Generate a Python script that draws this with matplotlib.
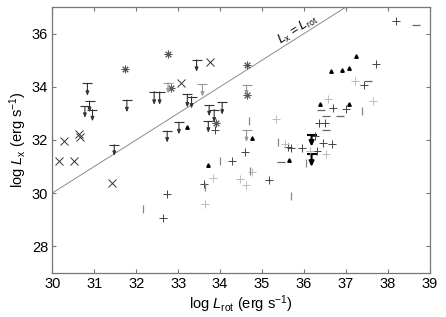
import matplotlib
matplotlib.use("Agg")
import matplotlib.pyplot as plt
import numpy as np

plt.rcParams['font.family'] = ['Liberation Sans', 'DejaVu Sans']
plt.rcParams['mathtext.fontset'] = 'custom'
plt.rcParams['mathtext.rm'] = 'Liberation Sans'
plt.rcParams['mathtext.it'] = 'Liberation Sans:italic'

# crosses
cross_x = [30.29, 30.63, 30.67, 30.17, 30.52, 31.43, 33.08, 33.75]
cross_y = [31.96, 32.21, 32.12, 31.19, 31.19, 30.39, 34.13, 34.92]

# asterisks
star_x = [31.74, 32.76, 32.82, 34.63, 34.64, 33.91]
star_y = [34.65, 35.22, 33.94, 34.81, 33.70, 32.64]

# upper limits: x, top value, arrow length
lim_x = [30.84, 30.89, 31.78, 31.48, 32.43, 32.56, 33.44, 33.22, 33.32, 33.74,
         34.05, 32.74, 33.02, 33.72, 33.86, 30.78, 30.96]
lim_y = [34.13, 33.46, 33.50, 31.82, 33.82, 33.80, 35.01, 33.72, 33.63, 33.30,
         33.41, 32.33, 32.67, 32.70, 33.14, 33.26, 33.14]
lim_len = [0.47, 0.42, 0.46, 0.42, 0.50, 0.48, 0.45, 0.50, 0.45, 0.41,
           0.46, 0.43, 0.46, 0.43, 0.49, 0.43, 0.44]

# grey upper limits
glim_x = [32.76, 33.58, 34.63, 34.63]
glim_y = [34.15, 34.09, 34.07, 32.37]
glim_len = [0.40, 0.46, 0.40, 0.45]

# bold upper limits
blim_x = [36.18, 36.18]
blim_y = [32.18, 31.46]
blim_len = [0.43, 0.47]

# triangles
tri_x = [33.21, 33.71, 34.75, 35.64, 36.37, 37.07, 36.64, 36.91, 37.06, 37.25]
tri_y = [32.50, 31.06, 32.07, 31.24, 33.37, 33.35, 34.59, 34.62, 34.71, 35.16]

# plus signs, dark
plus_x = [33.87, 32.74, 32.64, 33.61, 34.29, 34.59, 35.16, 35.62, 35.70, 35.94,
          36.25, 36.45, 36.67, 36.31, 36.35, 36.49, 36.69, 37.01, 37.43, 37.71, 38.18]
plus_y = [32.39, 29.98, 29.05, 30.35, 31.22, 31.55, 30.50, 31.75, 31.69, 31.69,
          32.15, 31.87, 31.84, 31.57, 32.62, 32.62, 33.20, 33.16, 34.07, 34.84, 36.48]

# plus signs, light
lplus_x = [33.83, 33.64, 34.47, 34.61, 34.75, 35.34, 36.14, 36.52, 36.56, 37.21, 37.64, 35.54]
lplus_y = [30.56, 29.61, 30.53, 30.31, 30.81, 32.80, 31.59, 31.49, 33.54, 34.22, 33.48, 31.84]

# vertical bars
vbar_x = [32.17, 33.99, 33.65, 34.69, 35.38, 35.70, 36.04, 37.37, 34.72]
vbar_y = [29.42, 31.19, 30.23, 32.72, 31.92, 29.91, 31.12, 33.08, 30.85]

# horizontal dashes
hbar_x = [36.41, 36.85, 36.53, 37.52, 38.66, 35.44, 36.53]
hbar_y = [33.14, 32.91, 32.39, 34.22, 36.33, 31.16, 32.91]

fig = plt.figure(figsize=(4.46, 3.17), dpi=100)
ax = fig.add_axes([0.117, 0.139, 0.847, 0.839])

line = np.array([30, 37])
ax.plot(line, line, color='#8c8c8c', lw=0.7)
ax.text(35.86, 36.17, r'$L_{\rm x}$ = $L_{\rm rot}$', rotation=32.6,
        ha='center', va='center', fontsize=9)

ax.plot(cross_x, cross_y, 'x', color='#333333', ms=5.5, mew=0.7, ls='none')
ax.plot(star_x, star_y, marker=(8, 2, 0), color='#555555', ms=5.5, mew=0.7, ls='none')


def limits(xs, ys, ls, col, lw, cap, hl, hw):
    ax.plot(xs, ys, '_', color=col, ms=cap, mew=lw, ls='none')
    for x, y, l in zip(xs, ys, ls):
        ax.annotate('', xy=(x, y - l), xytext=(x, y),
                    arrowprops=dict(arrowstyle='-|>,head_length=%s,head_width=%s' % (hl, hw),
                                    color=col, lw=lw, shrinkA=0, shrinkB=0))


limits(lim_x, lim_y, lim_len, '#333333', 0.8, 7, 0.25, 0.1)
limits(glim_x, glim_y, glim_len, '#999999', 0.8, 7, 0.25, 0.1)
limits(blim_x, blim_y, blim_len, 'black', 1.5, 7, 0.3, 0.14)

ax.plot(tri_x, tri_y, '^', color='black', ms=2.5, ls='none')
ax.plot(plus_x, plus_y, '+', color='#444444', ms=5.5, mew=0.7, ls='none')
ax.plot(lplus_x, lplus_y, '+', color='#bbbbbb', ms=5.5, mew=0.7, ls='none')
ax.plot(vbar_x, vbar_y, '|', color='#888888', ms=5.5, mew=0.9, ls='none')
ax.plot(hbar_x, hbar_y, '_', color='#666666', ms=5.5, mew=0.9, ls='none')

ax.set_xlim(30, 39)
ax.set_ylim(27, 37)
ax.set_xticks(range(30, 40))
ax.set_yticks([28, 30, 32, 34, 36])
ax.tick_params(direction='in', top=True, right=True, length=3, color='#777777',
               labelsize=10.5, pad=3)
for s in ax.spines.values():
    s.set_color('#777777')
    s.set_linewidth(0.9)

ax.set_xlabel(r'log $L_{\rm rot}$ (erg $\rm s^{-1}$)', fontsize=10.5, labelpad=2)
ax.set_ylabel(r'log $L_{\rm x}$ (erg $\rm s^{-1}$)', fontsize=10.5, labelpad=2)

fig.savefig('out.png', dpi=100)
